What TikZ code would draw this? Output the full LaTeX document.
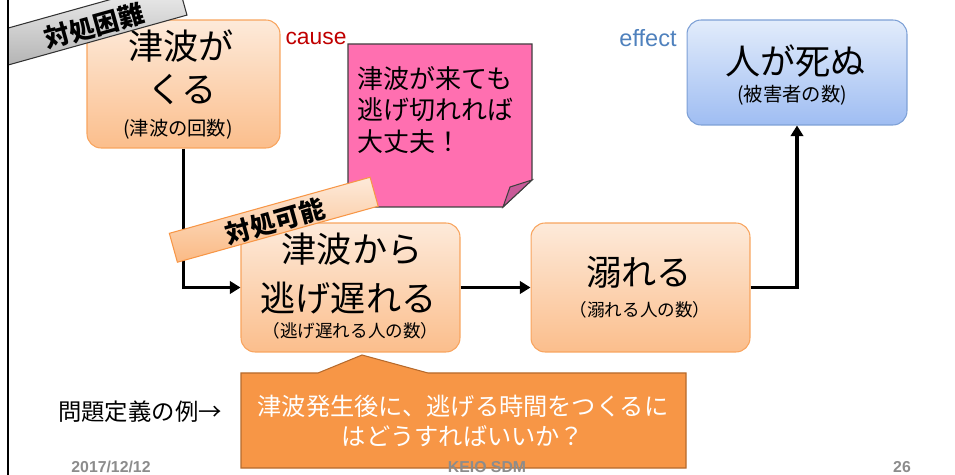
\documentclass[tikz,border=0pt]{standalone}
\usepackage{fontspec}
\setmainfont{Noto Sans CJK JP}
\newfontfamily\latinfont{Liberation Sans}
\usetikzlibrary{arrows.meta}
\definecolor{boxtop}{HTML}{FDEADA}
\definecolor{boxbottom}{HTML}{FBBE8C}
\definecolor{boxedge}{HTML}{F8A45E}
\definecolor{bluetop}{HTML}{E2ECFB}
\definecolor{bluebottom}{HTML}{9FBDF2}
\definecolor{blueedge}{HTML}{7DA0D6}
\definecolor{notepink}{HTML}{FF6FB0}
\definecolor{notefold}{HTML}{C85A98}
\definecolor{calloutfill}{HTML}{F79646}
\definecolor{calloutedge}{HTML}{B66A2C}
\definecolor{causered}{HTML}{C00000}
\definecolor{effectblue}{HTML}{4F81BD}
\definecolor{footgray}{HTML}{8C8C8C}
\begin{document}
\begin{tikzpicture}[x=0.02cm,y=-0.02cm,line width=0.6pt,
  orangebox/.style={draw=boxedge,top color=boxtop,bottom color=boxbottom,rounded corners=8pt,inner sep=0pt},
  bluebox/.style={draw=blueedge,top color=bluetop,bottom color=bluebottom,rounded corners=8pt,inner sep=0pt},
  bigtext/.style={font=\fontsize{20}{24}\selectfont,inner sep=0pt},
  subtext/.style={font=\fontsize{10}{12}\selectfont,inner sep=0pt},
  link/.style={line width=1.8pt,-{Triangle[length=6pt,width=7pt]}},
  bandtext/.style={rotate=15.6,font=\fontsize{14.5}{16}\selectfont\bfseries,inner sep=0pt}]
\useasboundingbox (0,0) rectangle (955,475);

% sticky note
\filldraw[fill=notepink,draw=black!75] (348,44) -- (532,44) -- (532,180) -- (503,207) -- (348,207) -- cycle;
\filldraw[fill=notefold,draw=black!75] (532,180) -- (510,187) -- (503,207) -- cycle;
\node[anchor=west,align=left,inner sep=0pt,font=\fontsize{14.8}{18.1}\selectfont] (notemsg) at (357,110) {津波が来ても\\逃げ切れれば\\大丈夫！};

% boxes
\node[orangebox,minimum width=3.86cm,minimum height=2.56cm] (tsunami) at (183.5,84) {};
\node[bigtext] (tsunamiA) at (181,46) {津波が};
\node[bigtext] (tsunamiB) at (182,90) {くる};
\node[subtext,font=\fontsize{11}{13}\selectfont] (tsunamiC) at (178,129) {(津波の回数)};

\node[orangebox,minimum width=4.38cm,minimum height=2.58cm] (late) at (350.5,287.5) {};
\node[bigtext] (lateA) at (352,249) {津波から};
\node[bigtext] (lateB) at (348.5,298) {逃げ遅れる};
\node[subtext] (lateC) at (350.5,331) {（逃げ遅れる人の数）};

\node[orangebox,minimum width=4.38cm,minimum height=2.58cm] (drown) at (640.5,287.5) {};
\node[bigtext] (drownA) at (639,272) {溺れる};
\node[subtext] (drownB) at (640,310) {（溺れる人の数）};

\node[bluebox,minimum width=4.4cm,minimum height=2.1cm] (death) at (797,72.5) {};
\node[bigtext] (deathA) at (795.5,61) {人が死ぬ};
\node[subtext,font=\fontsize{11}{13}\selectfont] (deathB) at (792,95) {(被害者の数)};

% connectors
\draw[link] (tsunami.south) |- (late.west);
\draw[link] (late.east) -- (drown.west);
\draw[link] (drown.east) -| (death.south);

% banners
\begin{scope}
\clip (8,0) rectangle (955,475);
\node[rotate=15.6,draw=black!80,top color=black!5,bottom color=black!35,minimum width=5.2cm,minimum height=0.712cm,inner sep=0pt] (hardband) at (57,32.9) {};
\end{scope}
\node[bandtext] (hard) at (94,26) {対処困難};
\node[rotate=15.6,draw=calloutfill,top color=boxtop,bottom color=boxbottom!90!calloutfill,minimum width=4.17cm,minimum height=0.6cm,inner sep=0pt] (easyband) at (273.75,219.75) {};
\node[bandtext] (easy) at (275,221.5) {対処可能};

\node[text=causered,font=\latinfont\fontsize{13}{15}\selectfont,inner sep=0pt] (cause) at (316,38) {cause};
\node[text=effectblue,font=\latinfont\fontsize{13.4}{15}\selectfont,inner sep=0pt] (effect) at (648,38) {effect};

% callout
\filldraw[fill=calloutfill,draw=calloutedge] (241,373) -- (318,373) -- (362,355) -- (428,373) -- (686,373) -- (686,468) -- (241,468) -- cycle;
\node[text=white,align=center,inner sep=0pt,font=\fontsize{13.8}{17}\selectfont] (question) at (463,421) {津波発生後に、逃げる時間をつくるに\\はどうすればいいか？};
\node[inner sep=0pt,font=\fontsize{13.3}{15}\selectfont] (example) at (140,412) {問題定義の例→};

% footer
\node[text=footgray,font=\latinfont\bfseries\fontsize{9}{11}\selectfont,inner sep=0pt] (date) at (111,467) {2017/12/12};
\node[text=footgray,font=\latinfont\bfseries\fontsize{9}{11}\selectfont,inner sep=0pt] (org) at (487,467) {KEIO SDM};
\node[text=footgray,font=\latinfont\bfseries\fontsize{9}{11}\selectfont,inner sep=0pt] (page) at (902,467) {26};

\draw[line width=1.2pt] (8,0) -- (8,475);
\end{tikzpicture}
\end{document}
